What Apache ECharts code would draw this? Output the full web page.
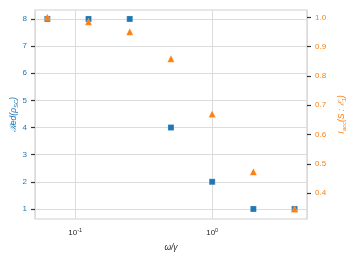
<!DOCTYPE html>
<html><head><meta charset="utf-8">
<script src="https://cdn.jsdelivr.net/npm/echarts@6/dist/echarts.min.js"></script>
<style>html,body{margin:0;padding:0;background:#fff}#c{width:349px;height:262px}</style>
</head><body><div id="c"></div>
<script>
const omega = [0.0625, 0.125, 0.25, 0.5, 1, 2, 4];
const redValues = [8, 8, 8, 4, 2, 1, 1];
const iaccValues = [1.0, 0.985, 0.951, 0.859, 0.670, 0.473, 0.346];
const leftTicks = [1, 2, 3, 4, 5, 6, 7, 8];
const rightTicks = [0.4, 0.5, 0.6, 0.7, 0.8, 0.9, 1.0];

const BLUE = '#1f77b4', ORANGE = '#ff7f0e';
const FONT = 'Liberation Sans';
const chart = echarts.init(document.getElementById('c'), null, {renderer: 'canvas'});
chart.setOption({
  animation: false,
  grid: {left: 35, right: 42, top: 10, bottom: 43, show: true, borderColor: '#cfcfcf', borderWidth: 1.2,
    containLabel: false, outerBoundsMode: 'none'},
  xAxis: {
    type: 'log', logBase: 10, min: 0.0508, max: 4.93,
    name: 'ω/γ', nameLocation: 'middle', nameGap: 24,
    nameTextStyle: {fontFamily: FONT, fontSize: 8.5, fontStyle: 'italic', color: '#262626'},
    axisLine: {show: false}, axisTick: {show: false},
    minorTick: {show: false},
    splitLine: {show: true, lineStyle: {color: '#dcdcdc', width: 1}},
    axisLabel: {
      fontFamily: FONT, fontSize: 8, color: '#262626', margin: 8,
      formatter: function (v) {
        const e = Math.log10(v);
        if (Math.abs(e - Math.round(e)) > 1e-6) return '';
        return '10{sup|' + Math.round(e) + '}';
      },
      rich: {sup: {fontSize: 5.5, verticalAlign: 'top', padding: [0, 0, 6, 0], fontFamily: FONT, color: '#262626'}}
    }
  },
  yAxis: [{
    type: 'value', min: 0.63, max: 8.33, interval: 1,
    position: 'left',
    name: '{n|ℛed(ρ}{sub|SC}{n|)}', nameLocation: 'middle', nameGap: 16, nameRotate: 90,
    nameMoveOverlap: false,
    nameTextStyle: {rich: {
      n: {fontFamily: FONT, fontSize: 8.5, color: BLUE, fontStyle: 'italic'},
      sub: {fontFamily: FONT, fontSize: 6, color: BLUE, fontStyle: 'italic', verticalAlign: 'bottom', padding: [4, 0, 0, 0]}
    }},
    axisLine: {show: false},
    axisTick: {show: true, length: 4, lineStyle: {color: '#333', width: 1.2},
      customValues: leftTicks},
    axisLabel: {fontFamily: FONT, fontSize: 8, color: BLUE, margin: 8, customValues: leftTicks},
    splitLine: {show: true, lineStyle: {color: '#dcdcdc', width: 1}}
  }, {
    type: 'value', min: 0.312, max: 1.025,
    position: 'right',
    name: '{n|I}{sub|acc}{n|(S : ℰ}{sub|1}{n|)}', nameLocation: 'middle', nameGap: 30, nameRotate: 90,
    nameMoveOverlap: false,
    nameTextStyle: {rich: {
      n: {fontFamily: FONT, fontSize: 8.5, color: ORANGE, fontStyle: 'italic'},
      sub: {fontFamily: FONT, fontSize: 6, color: ORANGE, fontStyle: 'italic', verticalAlign: 'bottom', padding: [4, 0, 0, 0]}
    }},
    axisLine: {show: false},
    axisTick: {show: true, length: 4, lineStyle: {color: '#333', width: 1.2}, customValues: rightTicks},
    axisLabel: {fontFamily: FONT, fontSize: 8, color: ORANGE, margin: 8, customValues: rightTicks,
      formatter: v => v.toFixed(1)},
    splitLine: {show: false}
  }],
  series: [{
    type: 'scatter', yAxisIndex: 0, symbol: 'rect', symbolSize: 6,
    itemStyle: {color: BLUE, opacity: 1, borderColor: 'rgba(255,255,255,0.4)', borderWidth: 0.5},
    data: omega.map((x, i) => [x, redValues[i]])
  }, {
    type: 'scatter', yAxisIndex: 1, symbol: 'triangle', symbolSize: 7,
    itemStyle: {color: ORANGE, opacity: 1, borderColor: 'rgba(255,255,255,0.4)', borderWidth: 0.5},
    data: omega.map((x, i) => [x, iaccValues[i]])
  }]
});
</script></body></html>
